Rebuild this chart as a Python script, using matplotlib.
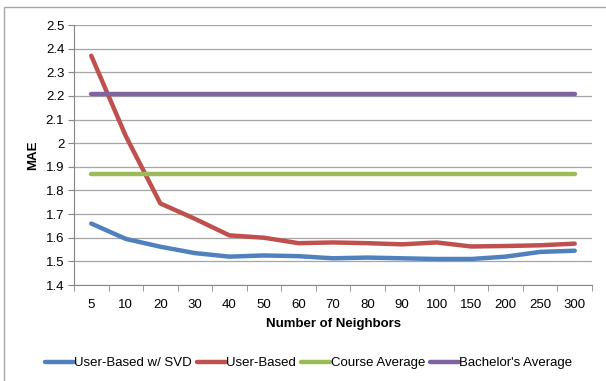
import matplotlib.pyplot as plt
from matplotlib.patches import Rectangle
import numpy as np

plt.rcParams['font.family'] = ['Liberation Sans', 'DejaVu Sans']

neighbors = ['5', '10', '20', '30', '40', '50', '60', '70', '80', '90',
             '100', '150', '200', '250', '300']
svd = [1.66, 1.595, 1.562, 1.535, 1.52, 1.525, 1.522, 1.513, 1.516, 1.513,
       1.51, 1.51, 1.52, 1.54, 1.545]
user_based = [2.37, 2.03, 1.745, 1.68, 1.61, 1.6, 1.577, 1.58, 1.577, 1.572,
              1.58, 1.563, 1.565, 1.568, 1.575]
course_avg = [1.87] * len(neighbors)
bachelor_avg = [2.21] * len(neighbors)

fig = plt.figure(figsize=(6.06, 3.81), dpi=100)
ax = fig.add_axes([74 / 606, 1 - 285 / 381, 518 / 606, 260 / 381])

# chart border
fig.patches.append(Rectangle((4 / 606, -0.1), 1.1, 1 - 7 / 381 + 0.1,
                             transform=fig.transFigure, fill=False,
                             edgecolor='#a6a6a6', linewidth=1))

x = np.arange(len(neighbors))
lw = 3.2
ax.plot(x, svd, color='#4F81BD', lw=lw, label='User-Based w/ SVD', solid_capstyle='round')
ax.plot(x, user_based, color='#C0504D', lw=lw, label='User-Based', solid_capstyle='round')
ax.plot(x, course_avg, color='#9BBB59', lw=lw, label='Course Average', solid_capstyle='round')
ax.plot(x, bachelor_avg, color='#8064A2', lw=lw, label="Bachelor's Average", solid_capstyle='round')

fs = 9.5
ax.set_xlim(-0.5, len(neighbors) - 0.5)
ax.set_ylim(1.4, 2.5)
yt = np.round(np.arange(1.4, 2.51, 0.1), 1)
ax.set_yticks(yt)
ax.set_yticklabels([('%g' % v) for v in yt])
ax.set_xticks(x)
ax.set_xticklabels(neighbors)
ax.set_xticks(np.arange(-0.5, len(neighbors)), minor=True)
ax.tick_params(axis='x', which='major', length=0, labelsize=fs, pad=10)
ax.tick_params(axis='x', which='minor', length=4, color='#868686', direction='out')
ax.tick_params(axis='y', length=4, color='#868686', labelsize=fs, pad=3)
ax.grid(axis='y', color='#a6a6a6', lw=0.9)
ax.set_axisbelow(True)
for s in ['top', 'right']:
    ax.spines[s].set_visible(False)
for s in ['left', 'bottom']:
    ax.spines[s].set_color('#868686')

ax.set_xlabel('Number of Neighbors', fontsize=fs, fontweight='bold', labelpad=5)
ax.set_ylabel('MAE', fontsize=fs, fontweight='bold', labelpad=5)

fig.legend(loc='center', bbox_to_anchor=(0.509, 1 - 363 / 381), ncol=4, frameon=False,
           fontsize=fs, handlelength=2.2, handletextpad=0.05, columnspacing=0.35)

fig.savefig('out.png', dpi=100)
